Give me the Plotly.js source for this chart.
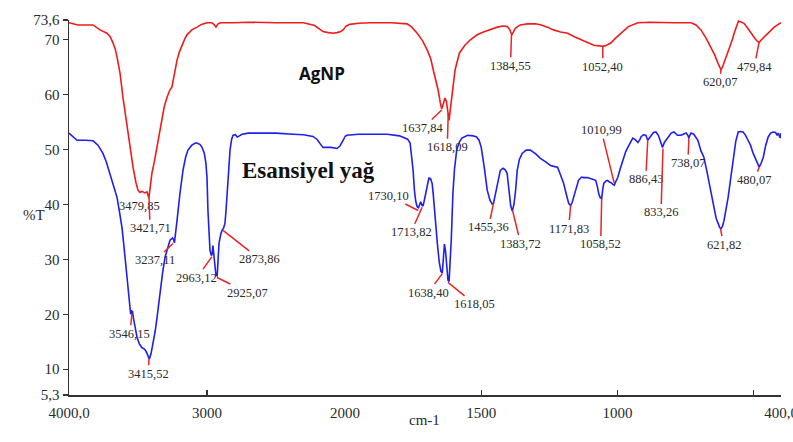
<!DOCTYPE html>
<html>
<head>
<meta charset="utf-8">
<script src="https://cdn.plot.ly/plotly-3.0.1.min.js"></script>
<style>html,body{margin:0;padding:0;background:#fff;}#chart{width:793px;height:442px;}</style>
</head>
<body>
<div id="chart"></div>
<script>
// AgNP spectrum (wavenumber cm-1, %T)
const redWn = [4000,3960,3935,3826,3800,3775,3725,3700,3681,3665,3652,3640,3630,3609,3595,3580,3558,3536,3515,3500,3485,3470,3450,3435,3421,3410,3399,3380,3362,3345,3326,3310,3290,3270,3254,3246,3230,3217,3200,3181,3160,3145,3110,3072,3040,3000,2965,2950,2935,2920,2900,2812,2700,2500,2300,2220,2159,2120,2087,2058,2030,2014,1995,1982,1950,1908,1830,1772,1755,1735,1715,1698,1685,1676,1665,1658,1650,1645,1640,1633,1628,1622,1618,1613,1606,1596,1580,1560,1540,1515,1492,1465,1441,1420,1404,1395,1388,1382,1375,1357,1330,1300,1280,1257,1235,1209,1183,1160,1135,1110,1087,1065,1052,1040,1025,1005,988,960,925,880,793,760,730,712,694,675,657,643,631,620,612,600,590,580,572,562,556,545,536,522,510,495,486,480,472,460,447,435,425,410,400];
const redT  = [73.1,72.8,72.7,72.7,72.3,71.8,71.2,70.5,69.4,68.3,66.9,65.5,63.9,59.5,57.0,54.8,50.4,46.8,44.0,42.6,42.2,42.4,42.1,42.3,41.2,43.5,45.7,48.0,50.4,53.0,55.9,57.8,59.5,60.8,61.4,62.6,64.8,66.3,67.8,69.0,70.2,70.9,71.8,72.3,72.8,73.1,73.1,72.8,72.3,72.9,73.1,73.1,73.2,73.1,73.1,72.6,71.5,71.3,71.2,71.3,71.5,71.8,72.5,72.8,73.0,73.1,73.1,72.9,72.3,71.2,69.8,68.1,66.5,64.5,62.3,60.8,58.5,57.4,58.2,59.4,58.8,56.5,55.3,57.5,60.3,64.5,67.6,69.0,70.0,70.9,71.4,71.9,72.3,72.5,72.4,71.8,70.9,71.4,72.1,72.7,72.9,72.9,72.7,72.3,71.8,71.4,71.2,70.6,70.0,69.5,69.0,68.9,68.8,69.0,69.4,70.4,71.2,72.4,73.1,73.2,73.1,73.1,73.1,72.7,71.8,70.3,68.7,67.2,65.7,64.5,65.4,67.0,68.1,69.8,71.2,72.7,73.4,73.2,73.0,72.1,71.2,70.2,69.7,69.5,70.0,70.6,71.2,71.8,72.3,72.8,73.1];

// Essential oil spectrum
const blueWn = [4000,3970,3942,3880,3826,3790,3754,3730,3703,3680,3652,3635,3616,3605,3594,3583,3572,3562,3553,3546,3540,3533,3520,3507,3490,3471,3455,3442,3430,3418,3405,3391,3375,3362,3350,3341,3322,3304,3285,3268,3250,3242,3236,3228,3217,3196,3174,3155,3138,3110,3085,3072,3050,3036,3020,3008,3000,2993,2985,2978,2968,2962,2957,2951,2945,2935,2926,2918,2913,2900,2891,2880,2870,2862,2848,2840,2833,2822,2812,2795,2780,2765,2746,2700,2600,2500,2377,2300,2232,2200,2175,2159,2130,2100,2058,2035,2022,2005,1993,1950,1900,1845,1800,1787,1770,1761,1755,1750,1745,1740,1735,1730,1726,1722,1718,1714,1710,1705,1698,1692,1686,1680,1676,1672,1661,1654,1648,1643,1639,1635,1631,1627,1622,1618,1614,1610,1604,1598,1590,1580,1571,1550,1530,1517,1508,1500,1489,1478,1468,1460,1455,1448,1440,1430,1420,1412,1405,1398,1392,1386,1380,1374,1368,1360,1350,1335,1320,1300,1283,1265,1246,1230,1220,1210,1198,1186,1179,1172,1166,1161,1150,1143,1132,1124,1110,1098,1086,1080,1074,1069,1063,1058,1054,1050,1042,1036,1030,1025,1018,1012,1006,999,990,981,970,962,952,944,935,925,918,914,905,896,889,882,878,868,859,850,841,835,828,815,803,793,780,767,755,748,742,738,734,730,720,712,705,694,683,673,664,655,646,638,631,625,620,615,609,602,594,585,576,566,557,548,539,530,521,512,502,492,484,480,473,465,456,447,438,429,420,414,410,406,403,400];
const blueT  = [53.0,52.3,51.7,51.7,51.6,50.8,49.3,47.8,45.7,43.8,41.3,38.8,35.8,33.2,30.4,27.3,24.3,22.0,20.0,20.6,20.5,19.3,17.4,15.8,14.6,13.9,13.7,13.3,12.6,11.8,12.9,14.7,17.0,19.4,22.0,24.3,27.5,30.4,32.2,33.5,33.9,33.6,33.0,34.5,37.1,42.0,46.2,48.6,49.9,50.8,51.2,51.2,50.9,50.4,49.4,47.6,44.9,38.9,34.5,31.6,30.7,31.0,32.5,31.0,29.0,27.1,27.0,30.5,32.9,34.6,35.3,35.7,36.5,38.9,44.9,47.6,49.9,51.8,52.6,52.7,52.3,52.5,52.8,53.0,53.0,53.0,52.8,52.7,52.4,51.8,50.9,50.4,50.4,50.4,50.2,50.7,51.3,52.2,52.6,52.8,52.8,52.8,52.5,52.3,51.9,51.2,48.5,46.2,42.5,40.5,39.6,39.4,40.0,40.5,39.9,39.7,40.5,41.8,43.5,44.8,44.7,43.8,41.8,38.9,32.9,29.5,27.8,27.5,30.0,32.8,31.5,28.8,26.2,26.0,29.5,33.5,42.0,46.5,49.9,51.4,52.1,52.6,52.5,52.3,51.7,50.4,46.8,42.6,40.8,40.1,40.2,41.8,44.0,46.2,46.6,46.3,45.7,42.5,39.8,38.8,40.0,42.5,46.2,48.2,49.3,49.9,49.9,49.2,48.4,47.8,47.1,46.9,46.8,45.5,43.9,41.5,40.2,39.8,40.4,41.3,43.5,44.4,45.0,44.9,44.9,44.7,44.6,44.4,43.3,42.0,41.2,41.1,42.8,43.9,44.3,44.4,44.1,44.0,43.7,43.5,44.2,44.9,46.5,48.0,49.6,50.4,51.5,52.1,51.8,51.3,51.8,52.3,52.7,52.6,51.7,52.2,52.6,53.1,53.2,52.6,51.3,50.4,51.3,52.3,53.0,53.2,52.6,52.6,52.9,53.0,52.6,52.1,52.7,53.0,52.8,52.3,51.7,49.8,48.6,46.3,43.9,41.3,38.9,37.5,36.6,35.8,35.6,36.0,37.1,39.0,41.3,44.6,48.0,51.5,53.2,53.3,53.2,52.6,51.7,50.8,49.3,48.0,47.1,46.8,47.5,48.6,50.8,52.3,53.0,53.2,53.1,52.6,53.0,52.2,52.1,53.0];

// Tick labels
const xTickValsL = [4000, 3000];
const xTickTextL = ["4000,0", "3000"];
const xTickValsR = [2000, 1500, 1000, 500, 400];
const xTickTextR = ["2000", "1500", "1000", "", "400,0"];
const yTickVals = [5.3, 10, 20, 30, 40, 50, 60, 70, 73.6];
const yTickText = ["5,3", "10", "20", "30", "40", "50", "60", "70", "73,6"];

// Peak labels: text, wavenumber of leader head, %T of leader head, text offset (px)
const peakText = ["3479,85","3421,71","1637,84","1618,09","1384,55","1052,40","620,07","479,84",
  "3546,15","3415,52","3237,11","2963,12","2925,07","2873,86","1730,10","1713,82","1638,40","1618,05",
  "1455,36","1383,72","1171,83","1058,52","1010,99","886,43","833,26","738,07","621,82","480,07"];
const peakWn = [3486,3420,1645,1621,1389,1054,620,480,
  3544,3420,3246,2964,2928,2884,1731,1717,1643,1622,
  1455,1385,1172,1058,1012,889,833,738,622,480];
const peakT = [39.8,41.3,57.2,56.6,70.9,68.9,64.8,69.6,
  20.1,11.9,32.9,30.5,26.7,35.3,38.9,39.5,27.4,25.8,
  40.2,38.9,39.8,41.1,43.9,51.7,50.2,52.1,35.6,46.8];
const peakAx = [0,1,-19,-1,-1,0,-1,-5,
  -2,-1,-18,-15,31,37,-30,-11,-14,27,
  -5,8,-2,-1,-13,-2,-2,-1,3,-5];
const peakAy = [0,31,18,34,31,21,14,25,
  20,15,17,21,15,29,-15,25,19,22,
  24,33,23,46,-53,39,64,25,16,13];

const serif = "Liberation Serif, Times New Roman, serif";
const txtCol = "#2a2a2a";

function traces(xa) {
  return [
    {x: redWn, y: redT, xaxis: xa, yaxis: "y", type: "scatter", mode: "lines",
     line: {color: "#ee1c1c", width: 1.6}, hoverinfo: "skip"},
    {x: blueWn, y: blueT, xaxis: xa, yaxis: "y", type: "scatter", mode: "lines",
     line: {color: "#1f1fef", width: 1.6}, hoverinfo: "skip"}
  ];
}
const data = traces("x").concat(traces("x2"));

const annotations = peakText.map((t, i) => {
  const a = {
    text: t, x: peakWn[i], y: peakT[i],
    xref: peakWn[i] >= 2000 ? "x" : "x2", yref: "y",
    font: {family: serif, size: 12.5, color: txtCol},
    showarrow: !(peakAx[i] === 0 && peakAy[i] === 0),
    arrowhead: 0, arrowwidth: 1.5, arrowcolor: "#e8262a",
    ax: peakAx[i], ay: peakAy[i], standoff: 0, startstandoff: 0
  };
  return a;
});
annotations.push(
  {text: "<b>AgNP</b>", xref: "paper", yref: "paper", x: 0.320, y: 0.893, showarrow: false,
   font: {family: "Open Sans, Liberation Sans, sans-serif", size: 17, color: "#111"}},
  {text: "<b>Esansiyel yağ</b>", xref: "paper", yref: "paper", x: 0.337, y: 0.60, showarrow: false,
   font: {family: serif, size: 23, color: "#111"}},
  {text: "%T", xref: "paper", yref: "paper", x: -0.0674, y: 0.48, showarrow: false,
   font: {family: serif, size: 15, color: txtCol}},
  {text: "cm-1", xref: "paper", yref: "paper", x: 0.4986, y: -0.0933, showarrow: false,
   font: {family: serif, size: 15, color: txtCol}}
);

const axCommon = {
  showline: true, linecolor: "#333", linewidth: 1.5, showgrid: false, zeroline: false,
  ticks: "inside", ticklen: 5, tickwidth: 1.3, tickcolor: "#333",
  tickfont: {family: serif, size: 15, color: txtCol}, tickmode: "array", fixedrange: true,
  ticklabeloverflow: "allow"
};
const split = 0.3876;
const layout = {
  width: 793, height: 442,
  margin: {l: 69, r: 12, t: 20, b: 47, pad: 0},
  paper_bgcolor: "#fff", plot_bgcolor: "#fff",
  showlegend: false,
  xaxis: Object.assign({}, axCommon, {domain: [0, split], range: [4000, 2000], anchor: "y",
    tickvals: xTickValsL, ticktext: xTickTextL, ticklabelstandoff: 3}),
  xaxis2: Object.assign({}, axCommon, {domain: [split, 1], range: [2000, 400], anchor: "y",
    tickvals: xTickValsR, ticktext: xTickTextR, ticklabelstandoff: 3}),
  yaxis: Object.assign({}, axCommon, {range: [5.3, 73.6], anchor: "x", ticks: "outside",
    tickvals: yTickVals, ticktext: yTickText}),
  annotations: annotations
};
Plotly.newPlot("chart", data, layout, {staticPlot: true, displayModeBar: false});
</script>
</body>
</html>
